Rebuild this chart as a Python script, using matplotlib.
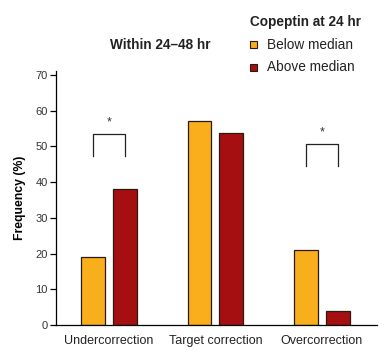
import matplotlib
matplotlib.use("Agg")
import matplotlib.pyplot as plt
import numpy as np

plt.rcParams['font.family'] = ['Liberation Sans', 'DejaVu Sans']

categories = ["Undercorrection", "Target correction", "Overcorrection"]
below_median = [19, 57, 21]
above_median = [38, 53.7, 4]
series_names = ["Below median", "Above median"]
colors = ["#F9AE1B", "#A50F12"]
yticks = [0, 10, 20, 30, 40, 50, 60, 70]

# significance brackets: (group index, top, leg bottom)
brackets = [(0, 53.5, 47.4), (2, 50.6, 44.6)]

fig = plt.figure(figsize=(3.9, 3.51), dpi=100)
ax = fig.add_axes([56/390, 26/351, 321/390, 254/351])

x = np.arange(len(categories))
w = 0.225
off = 0.15
ax.bar(x - off, below_median, w, color=colors[0], edgecolor="#2a1a10", linewidth=0.9)
ax.bar(x + off, above_median, w, color=colors[1], edgecolor="#2a1a10", linewidth=0.9)

for gi, top, bot in brackets:
    ax.plot([gi - off, gi - off, gi + off, gi + off], [bot, top, top, bot],
            color="#222222", linewidth=0.9)
    ax.text(gi, top + 1.6, "*", ha="center", va="bottom", fontsize=9, color="#333333")

ax.set_xlim(-0.5, 2.52)
ax.set_ylim(0, 71.1)
ax.set_yticks(yticks)
ax.set_xticks(x)
ax.set_xticklabels(categories, fontsize=9, color="#222222")
ax.tick_params(axis="x", length=0, pad=7)
ax.tick_params(axis="y", length=4, width=0.9, labelsize=8, labelcolor="#333333", pad=2)
for s in ["top", "right"]:
    ax.spines[s].set_visible(False)
for s in ["left", "bottom"]:
    ax.spines[s].set_linewidth(0.9)
ax.set_ylabel("Frequency (%)", fontsize=8.8, fontweight="bold", labelpad=7)

fig.text(160/390, 1 - 45/351, "Within 24\u201348 hr", ha="center", va="center",
         fontsize=9.8, fontweight="bold", color="#222222")
fig.text(250/390, 1 - 22/351, "Copeptin at 24 hr", ha="left", va="center",
         fontsize=9.8, fontweight="bold", color="#222222")
for i, name in enumerate(series_names):
    yy = 1 - (44.7 + 22.3 * i)/351
    fig.patches.append(plt.Rectangle((250/390, yy - 3.5/351), 7/390, 7/351,
                                     transform=fig.transFigure, facecolor=colors[i],
                                     edgecolor="#2a1a10", linewidth=0.8))
    fig.text(267/390, yy, name, ha="left", va="center", fontsize=9.8, color="#222222")

fig.savefig("out.png", dpi=100)
